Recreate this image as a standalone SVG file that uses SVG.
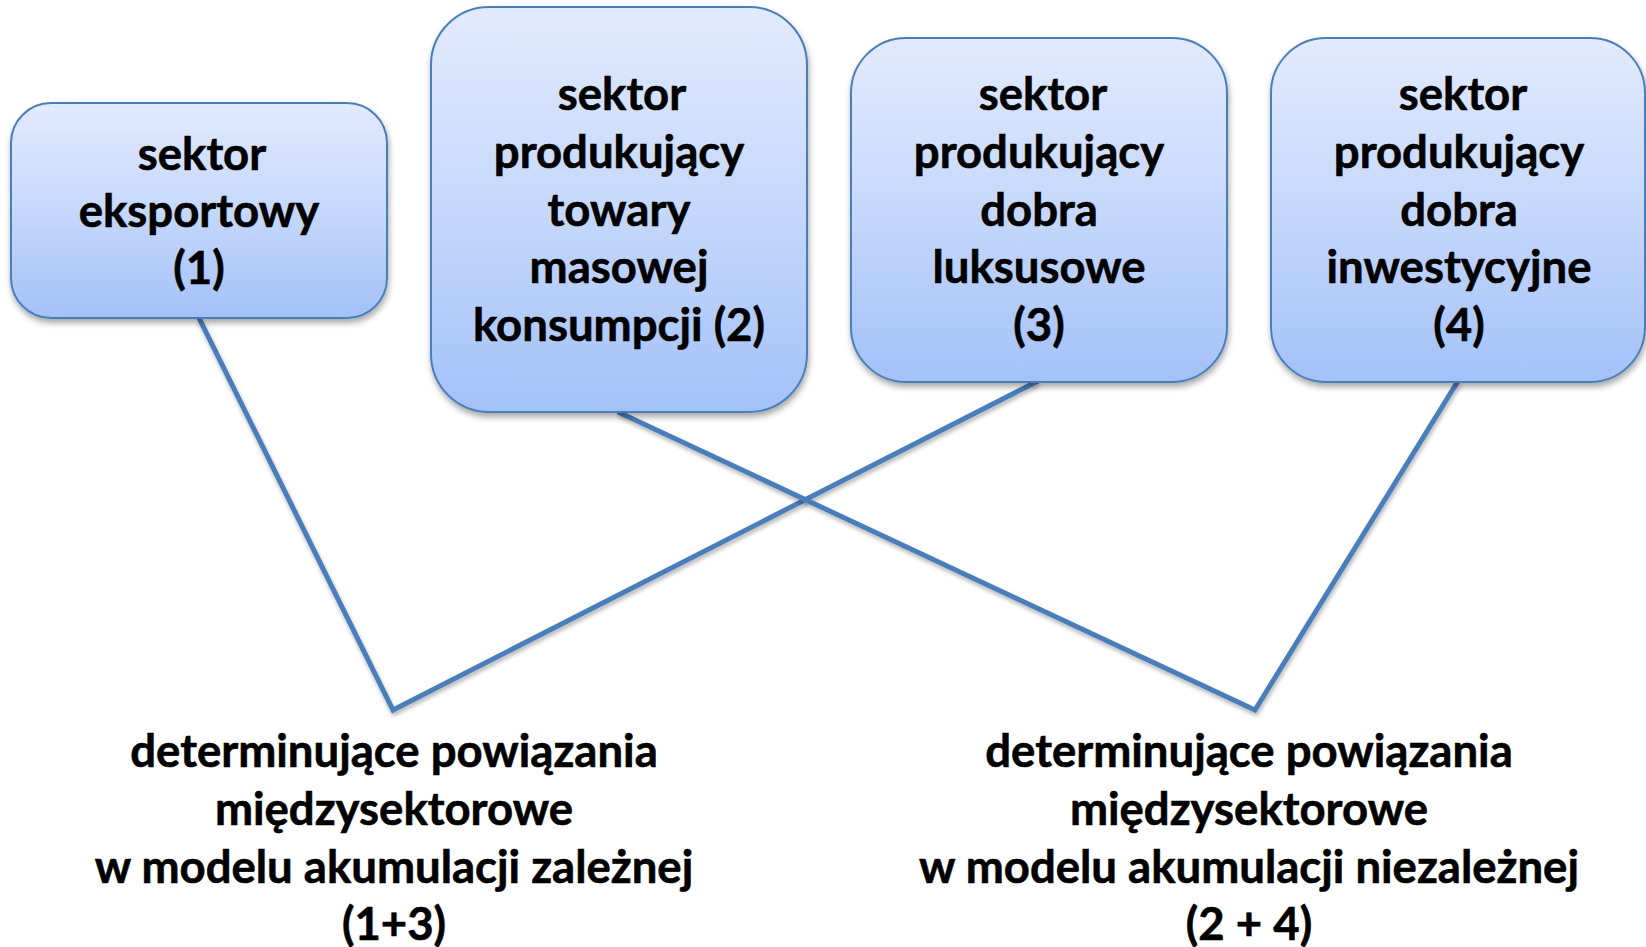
<svg xmlns="http://www.w3.org/2000/svg" width="1646" height="947" viewBox="0 0 1646 947">
<style>
  .box { fill: url(#g); stroke: #4a7ebb; stroke-width: 2; filter: url(#sh); }
  .t { font-family: Lato, "Liberation Sans", sans-serif; font-weight: bold; font-size: 45.5px; fill: #000; text-anchor: middle; stroke: #000; stroke-width: 0.6; }
  .c { fill: none; stroke: #4a7ebb; stroke-width: 5; filter: url(#sh2); }
</style>
<defs>
  <linearGradient id="g" x1="0" y1="0" x2="0" y2="1">
    <stop offset="0" stop-color="#e2eafd"/>
    <stop offset="0.5" stop-color="#c6d8fb"/>
    <stop offset="1" stop-color="#a3c1f8"/>
  </linearGradient>
  <filter id="sh" x="-10%" y="-10%" width="120%" height="125%">
    <feDropShadow dx="1" dy="4" stdDeviation="3" flood-color="#000" flood-opacity="0.35"/>
  </filter>
  <filter id="sh2" x="-10%" y="-10%" width="120%" height="120%">
    <feDropShadow dx="1" dy="3" stdDeviation="2" flood-color="#000" flood-opacity="0.3"/>
  </filter>
</defs>
<rect width="1646" height="947" fill="#fff"/>
<g id="connectors">
  <polyline class="c" points="199,318 393,710 1038,381"/>
  <polyline class="c" points="618,412 1255,710 1458,381"/>
</g>
<g id="node1">
  <rect class="box" x="11" y="103" width="376" height="215" rx="40"/>
  <text class="t" x="202" y="170">sektor</text>
  <text class="t" x="199" y="227">eksportowy</text>
  <text class="t" x="199" y="284">(1)</text>
</g>
<g id="node2">
  <rect class="box" x="431" y="7" width="376" height="405" rx="58"/>
  <text class="t" x="622" y="110">sektor</text>
  <text class="t" x="619" y="168">produkujący</text>
  <text class="t" x="619" y="226">towary</text>
  <text class="t" x="619" y="283">masowej</text>
  <text class="t" x="619" y="341">konsumpcji (2)</text>
</g>
<g id="node3">
  <rect class="box" x="851" y="38" width="376" height="344" rx="55"/>
  <text class="t" x="1043" y="110">sektor</text>
  <text class="t" x="1039" y="168">produkujący</text>
  <text class="t" x="1039" y="226">dobra</text>
  <text class="t" x="1039" y="283">luksusowe</text>
  <text class="t" x="1039" y="341">(3)</text>
</g>
<g id="node4">
  <rect class="box" x="1271" y="38" width="374" height="344" rx="55"/>
  <text class="t" x="1463" y="110">sektor</text>
  <text class="t" x="1459" y="168">produkujący</text>
  <text class="t" x="1459" y="226">dobra</text>
  <text class="t" x="1459" y="283">inwestycyjne</text>
  <text class="t" x="1459" y="341">(4)</text>
</g>
<g id="label-left">
  <text class="t" x="394" y="767">determinujące powiązania</text>
  <text class="t" x="394" y="825">międzysektorowe</text>
  <text class="t" x="394" y="883">w modelu akumulacji zależnej</text>
  <text class="t" x="394" y="940">(1+3)</text>
</g>
<g id="label-right">
  <text class="t" x="1249" y="767">determinujące powiązania</text>
  <text class="t" x="1249" y="825">międzysektorowe</text>
  <text class="t" x="1249" y="883">w modelu akumulacji niezależnej</text>
  <text class="t" x="1249" y="940">(2 + 4)</text>
</g>
</svg>
